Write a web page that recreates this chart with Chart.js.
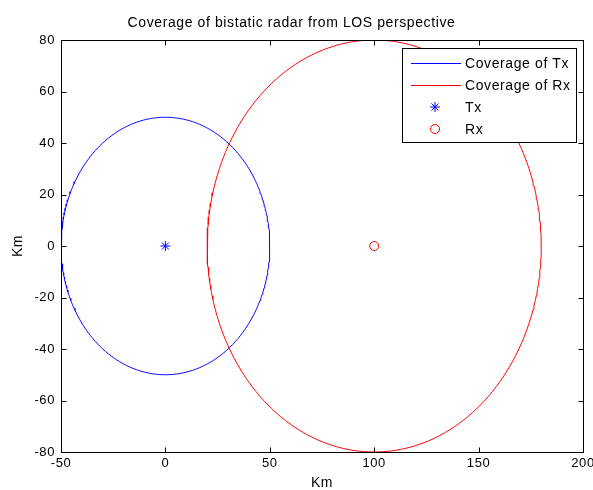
<!DOCTYPE html>
<html>
<head>
<meta charset="utf-8">
<script src="https://cdn.jsdelivr.net/npm/chart.js@4.4.1/dist/chart.umd.min.js"></script>
<style>
    html, body { margin: 0; padding: 0; background: #fff; }
    #wrap { width: 593px; height: 490px; }
</style>
</head>
<body>
<div id="wrap"><canvas id="radar-chart"></canvas></div>
<script>
// Datos: sitios y radio de cobertura (km)
const siteNames = ['Tx', 'Rx'];
const siteX = [0, 100];
const siteY = [0, 0];
const coverageRadius = [50, 80];
const siteColors = ['#0000ff', '#ff0000'];

// Ejes
const xTicks = [-50, 0, 50, 100, 150, 200];
const yTicks = [-80, -60, -40, -20, 0, 20, 40, 60, 80];

const FONT = 'Arial, "Liberation Sans", sans-serif';

// Puntos del contorno de cobertura (circunferencia)
function coverageRing(i) {
    const pts = [];
    for (let k = 0; k <= 360; k++) {
        const a = k * Math.PI / 180;
        pts.push({ x: siteX[i] + coverageRadius[i] * Math.cos(a), y: siteY[i] + coverageRadius[i] * Math.sin(a) });
    }
    return pts;
}

const datasets = [
    {
        label: 'Coverage of Tx',
        data: coverageRing(0),
        showLine: true,
        borderColor: siteColors[0],
        borderWidth: 1,
        pointRadius: 0,
        tension: 0
    },
    {
        label: 'Coverage of Rx',
        data: coverageRing(1),
        showLine: true,
        borderColor: siteColors[1],
        borderWidth: 1,
        pointRadius: 0,
        tension: 0
    },
    {
        label: siteNames[0],
        data: [{ x: siteX[0], y: siteY[0] }],
        pointStyle: 'star',
        pointRadius: 5,
        borderColor: siteColors[0],
        backgroundColor: siteColors[0],
        borderWidth: 1
    },
    {
        label: siteNames[1],
        data: [{ x: siteX[1], y: siteY[1] }],
        pointStyle: 'circle',
        pointRadius: 4.5,
        borderColor: siteColors[1],
        backgroundColor: 'rgba(0,0,0,0)',
        borderWidth: 1
    }
];

// Caja de ejes con marcas hacia dentro y leyenda al estilo MATLAB
const matlabAxes = {
    id: 'matlabAxes',
    beforeDraw(chart) {
        chart.ctx.letterSpacing = '0.6px';
    },
    afterDatasetsDraw(chart) {
        const { ctx, chartArea: a, scales } = chart;
        const L = Math.round(a.left) + 0.5, R = Math.round(a.right) + 0.5;
        const T = Math.round(a.top) + 0.5, B = Math.round(a.bottom) + 0.5;
        ctx.save();
        ctx.strokeStyle = '#000';
        ctx.lineWidth = 1;
        ctx.strokeRect(L, T, R - L, B - T);
        ctx.beginPath();
        xTicks.forEach(v => {
            const x = Math.round(scales.x.getPixelForValue(v)) + 0.5;
            ctx.moveTo(x, B); ctx.lineTo(x, B - 5);
            ctx.moveTo(x, T); ctx.lineTo(x, T + 5);
        });
        yTicks.forEach(v => {
            const y = Math.round(scales.y.getPixelForValue(v)) + 0.5;
            ctx.moveTo(L, y); ctx.lineTo(L + 5, y);
            ctx.moveTo(R, y); ctx.lineTo(R - 5, y);
        });
        ctx.stroke();

        // Leyenda
        const bx = 402.5, by = 48.5, bw = 174, bh = 94;
        ctx.fillStyle = '#fff';
        ctx.fillRect(bx, by, bw, bh);
        ctx.strokeRect(bx, by, bw, bh);
        const rows = [63, 85, 107, 129];
        ctx.font = '14px ' + FONT;
        ctx.letterSpacing = '0.6px';
        ctx.textBaseline = 'middle';
        chart.data.datasets.forEach((ds, i) => {
            const y = rows[i];
            if (ds.showLine) {
                ctx.strokeStyle = ds.borderColor;
                ctx.beginPath();
                ctx.moveTo(411, y + 0.5); ctx.lineTo(461, y + 0.5);
                ctx.stroke();
            } else {
                ctx.strokeStyle = ds.borderColor;
                ctx.fillStyle = ds.backgroundColor;
                Chart.helpers.drawPoint(ctx, {
                    pointStyle: ds.pointStyle,
                    radius: ds.pointRadius,
                    borderWidth: 1,
                    rotation: 0
                }, 435, y);
            }
            ctx.fillStyle = '#000';
            ctx.fillText(ds.label, 465, y + 1);
        });
        ctx.restore();
    },
    afterDraw(chart) {
        chart.ctx.letterSpacing = '0px';
    }
};

const ctx = document.getElementById('radar-chart').getContext('2d');
new Chart(ctx, {
    type: 'scatter',
    data: { datasets },
    plugins: [matlabAxes],
    options: {
        responsive: true,
        maintainAspectRatio: false,
        animation: false,
        layout: { padding: { right: 10 } },
        plugins: {
            legend: { display: false },
            tooltip: { enabled: false },
            title: {
                display: true,
                text: 'Coverage of bistatic radar from LOS perspective',
                color: '#000',
                font: { family: FONT, size: 14, weight: 'normal', lineHeight: 1.2 },
                padding: { top: 14.6, bottom: 8.6 }
            }
        },
        scales: {
            x: {
                type: 'linear',
                min: -50,
                max: 200,
                afterBuildTicks: s => { s.ticks = xTicks.map(v => ({ value: v })); },
                afterFit: s => { s.height = 38; s.paddingLeft = 0; s.paddingRight = 0; },
                grid: { display: false, drawTicks: false },
                border: { display: false },
                ticks: { color: '#000', padding: 4, font: { family: FONT, size: 13 }, maxRotation: 0 },
                title: {
                    display: true,
                    text: 'Km',
                    color: '#000',
                    font: { family: FONT, size: 14, lineHeight: 1 },
                    padding: { top: 0, bottom: 0 }
                }
            },
            y: {
                type: 'linear',
                min: -80,
                max: 80,
                afterBuildTicks: s => { s.ticks = yTicks.map(v => ({ value: v })); },
                afterFit: s => { s.width = 61; s.paddingTop = 0; s.paddingBottom = 0; },
                grid: { display: false, drawTicks: false },
                border: { display: false },
                ticks: { color: '#000', padding: 6, font: { family: FONT, size: 13 } },
                title: {
                    display: true,
                    text: 'Km',
                    color: '#000',
                    font: { family: FONT, size: 14, lineHeight: 1 },
                    padding: { top: 11, bottom: 0 }
                }
            }
        }
    }
});
</script>
</body>
</html>
